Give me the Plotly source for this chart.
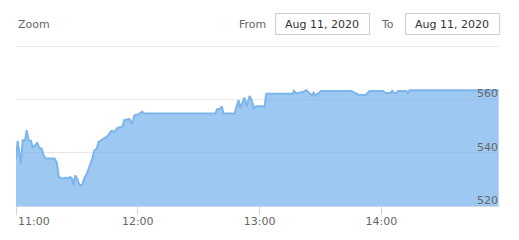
import plotly.graph_objects as go

# ---- data ----
times = [
    "11:00:00", "11:00:50", "11:02:20", "11:03:20", "11:04:30", "11:05:15", "11:06:15",
    "11:07:25", "11:08:15", "11:09:35", "11:10:25", "11:11:30", "11:12:40", "11:13:40",
    "11:14:50", "11:19:00", "11:20:05", "11:21:05", "11:23:00", "11:24:40", "11:25:30",
    "11:26:40", "11:27:40", "11:28:20", "11:29:15", "11:30:15", "11:31:15", "11:32:35",
    "11:33:45", "11:34:50", "11:36:10", "11:37:20", "11:38:40", "11:39:45", "11:40:45",
    "11:42:00", "11:43:35", "11:45:10", "11:46:55", "11:48:30", "11:50:10", "11:52:20",
    "11:53:25", "11:55:55", "11:57:15", "11:58:20", "12:00:30", "12:02:10", "12:03:20",
    "12:38:20", "12:39:00", "12:40:35", "12:41:25", "12:42:15", "12:47:40", "12:48:50",
    "12:49:40", "12:50:30", "12:51:45", "12:52:35", "12:53:45", "12:55:05", "12:56:10",
    "12:57:10", "12:58:20", "13:00:00", "13:02:30", "13:03:20", "13:16:25", "13:16:55",
    "13:18:05", "13:21:20", "13:23:00", "13:24:35", "13:25:45", "13:26:35", "13:27:30",
    "13:28:45", "13:30:25", "13:45:10", "13:46:50", "13:49:00", "13:52:15", "13:54:15",
    "14:00:50", "14:02:05", "14:04:35", "14:05:25", "14:06:05", "14:07:25", "14:08:10",
    "14:12:20", "14:13:05", "14:13:55", "14:57:50",
]
prices = [
    537.9, 544.5, 535.9, 544.7, 544.7, 548.5, 544.7,
    544.5, 541.9, 543.2, 543.7, 541.9, 541.5, 538.8,
    537.8, 537.8, 536.3, 530.9, 530.3, 530.7, 530.3,
    530.9, 530.3, 527.9, 531.5, 530.1, 527.9, 527.9,
    530.7, 531.9, 534.4, 537.2, 540.9, 541.5, 544.1,
    544.7, 545.7, 546.3, 548.2, 547.9, 549.4, 549.7,
    552.3, 552.6, 550.9, 554.1, 554.5, 555.4, 554.7,
    554.7, 556.3, 556.5, 557.5, 554.7, 554.7, 558.2,
    559.7, 556.9, 559.4, 560.7, 557.5, 561.3, 559.7,
    556.7, 557.5, 557.5, 557.5, 562.2, 562.2, 563.2,
    562.4, 562.8, 563.5, 562.5, 561.5, 562.5, 561.5,
    562.2, 563.2, 563.2, 562.5, 561.7, 561.7, 563.2,
    563.2, 562.4, 562.4, 563.5, 562.4, 562.4, 563.2,
    563.2, 562.3, 563.5, 563.5,
]
day = "2020-08-11"
x_ticks = ["11:00", "12:00", "13:00", "14:00"]
y_ticks = [520, 540, 560, 580]
y_tick_text = ["520", "540", "560", ""]
x_range = ["11:00:00", "14:58:00"]
y_range = [520, 580.1]
date_label = "Aug 11, 2020"

# ---- geometry (pixels) ----
W, H = 519, 240
L, R, T, B = 16, 20, 46, 34
PW, PH = W - L - R, H - T - B


def px(xp):
    return (xp - L) / PW


def py(yp):
    return (H - B - yp) / PH


FONT = "DejaVu Sans"
GREY = "#666666"

xs = [f"{day} {t}" for t in times]

fig = go.Figure()
fig.add_trace(go.Scatter(
    x=xs, y=prices, mode="lines",
    line=dict(color="#7cb5ec", width=2),
    fill="tozeroy", fillcolor="rgba(124,181,236,0.75)",
    hoverinfo="skip", showlegend=False,
))

tickvals = [f"{day} {t}" for t in x_ticks]
fig.update_layout(
    width=W, height=H,
    margin=dict(l=L, r=R, t=T, b=B, pad=0, autoexpand=False),
    paper_bgcolor="white", plot_bgcolor="white",
    font=dict(family=FONT, size=11, color=GREY),
    xaxis=dict(
        type="date", automargin=False,
        range=[f"{day} {x_range[0]}", f"{day} {x_range[1]}"],
        tickvals=tickvals,
        ticktext=[""] + x_ticks[1:],
        ticks="outside", ticklen=8, tickcolor="#ccd6eb", tickwidth=1,
        ticklabelstandoff=-3,
        showline=True, linecolor="#ccd6eb", linewidth=1,
        showgrid=False, zeroline=False,
        tickfont=dict(family=FONT, size=11, color=GREY),
    ),
    yaxis=dict(
        range=y_range, automargin=False,
        tickvals=y_ticks, ticktext=y_tick_text,
        side="right", ticklabelposition="inside",
        ticklabeloverflow="allow",
        ticklabelshift=-6, ticklabelstandoff=-2,
        showgrid=True, gridcolor="#e6e6e6", gridwidth=1,
        zeroline=False, showline=False, ticks="",
        tickfont=dict(family=FONT, size=11, color=GREY),
    ),
)

annotations = [
    # first x label, shifted inward as in the reference
    dict(x=tickvals[0], y=py(221), xref="x", yref="paper", text=x_ticks[0],
         showarrow=False, xanchor="left", yanchor="middle",
         font=dict(family=FONT, size=11, color=GREY)),
    dict(x=px(16), y=py(24), xref="paper", yref="paper", text="Zoom",
         showarrow=False, xanchor="left", yanchor="middle",
         font=dict(family=FONT, size=11, color=GREY)),
    dict(x=px(268), y=py(24), xref="paper", yref="paper", text="From",
         showarrow=False, xanchor="right", yanchor="middle",
         font=dict(family=FONT, size=11, color=GREY)),
    dict(x=px(396), y=py(24), xref="paper", yref="paper", text="To",
         showarrow=False, xanchor="right", yanchor="middle",
         font=dict(family=FONT, size=11, color=GREY)),
    dict(x=px(322), y=py(24), xref="paper", yref="paper", text=date_label,
         showarrow=False, xanchor="center", yanchor="middle",
         font=dict(family=FONT, size=11, color="#333333")),
    dict(x=px(452), y=py(24), xref="paper", yref="paper", text=date_label,
         showarrow=False, xanchor="center", yanchor="middle",
         font=dict(family=FONT, size=11, color="#333333")),
]
fig.update_layout(annotations=annotations)

shapes = [
    # top grid line (580) at the upper edge of the plot
    dict(type="line", xref="paper", yref="y", x0=0, x1=1,
         y0=y_ticks[-1], y1=y_ticks[-1], layer="below",
         line=dict(color="#e6e6e6", width=1)),
]
for x0, x1 in [(275.5, 369.5), (405.5, 499.5)]:
    shapes.append(dict(type="rect", xref="paper", yref="paper",
                       x0=px(x0), x1=px(x1), y0=py(34.5), y1=py(13.5),
                       line=dict(color="#cccccc", width=1), fillcolor="white"))
fig.update_layout(shapes=shapes)

fig.write_html("out.html", config={"displayModeBar": False})
